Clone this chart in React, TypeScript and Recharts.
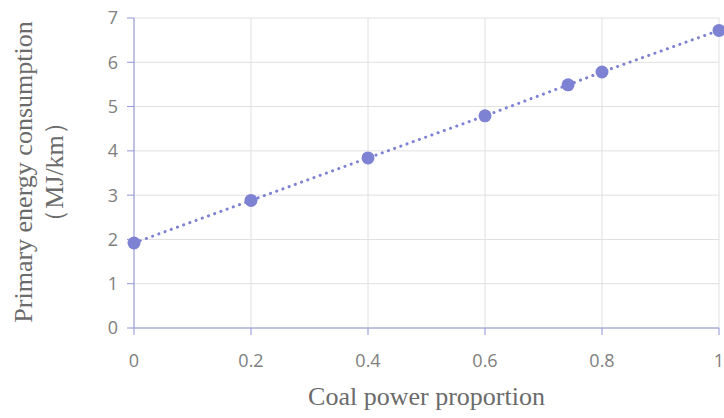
import { LineChart, Line, XAxis, YAxis, CartesianGrid } from 'recharts';

const coalShare = [0, 0.2, 0.4, 0.6, 0.742, 0.8, 1];
const energyUse = [1.92, 2.88, 3.84, 4.79, 5.49, 5.78, 6.72];
const xTicks = [0, 0.2, 0.4, 0.6, 0.8, 1];
const yTicks = [0, 1, 2, 3, 4, 5, 6, 7];

const data = coalShare.map((x, i) => ({ x, y: energyUse[i] }));

const accent = '#7d82d2';
const axisColor = '#9195d8';
const tickStyle = { fill: '#808080', fontSize: 18, fontFamily: 'Open Sans' };

function YTitle() {
  return (
    <text
      transform="translate(32, 172) rotate(-90)"
      textAnchor="middle"
      fontFamily="Liberation Serif"
      fontSize={26}
      fill="#6b6b6b"
    >
      <tspan x={0} dy={0}>Primary energy consumption</tspan>
      <tspan x={0} dy={31}>（MJ/km）</tspan>
    </text>
  );
}

export default function App() {
  return (
    <div style={{ position: 'absolute', left: 0, top: 0, width: 724, height: 418, background: '#fff' }}>
      <LineChart width={724} height={418} data={data} margin={{ top: 18, right: 5, left: 0, bottom: 0 }}>
        <CartesianGrid stroke="#e0e0e0" />
        <XAxis
          dataKey="x"
          type="number"
          domain={[0, 1]}
          ticks={xTicks}
          height={90}
          stroke={axisColor}
          tick={tickStyle}
          tickSize={7}
          tickMargin={19}
          label={{ value: 'Coal power proportion', position: 'insideBottom', offset: 13, fill: '#6b6b6b', fontSize: 26, fontFamily: 'Liberation Serif' }}
        />
        <YAxis
          type="number"
          domain={[0, 7]}
          ticks={yTicks}
          width={134}
          stroke={axisColor}
          tick={tickStyle}
          tickSize={7}
          tickMargin={9}
          label={<YTitle />}
        />
        <Line
          dataKey="y"
          stroke={accent}
          strokeWidth={3}
          strokeDasharray="0.1 6.5"
          strokeLinecap="round"
          dot={{ r: 6.5, fill: accent, stroke: accent, strokeWidth: 0 }}
          isAnimationActive={false}
        />
      </LineChart>
    </div>
  );
}
